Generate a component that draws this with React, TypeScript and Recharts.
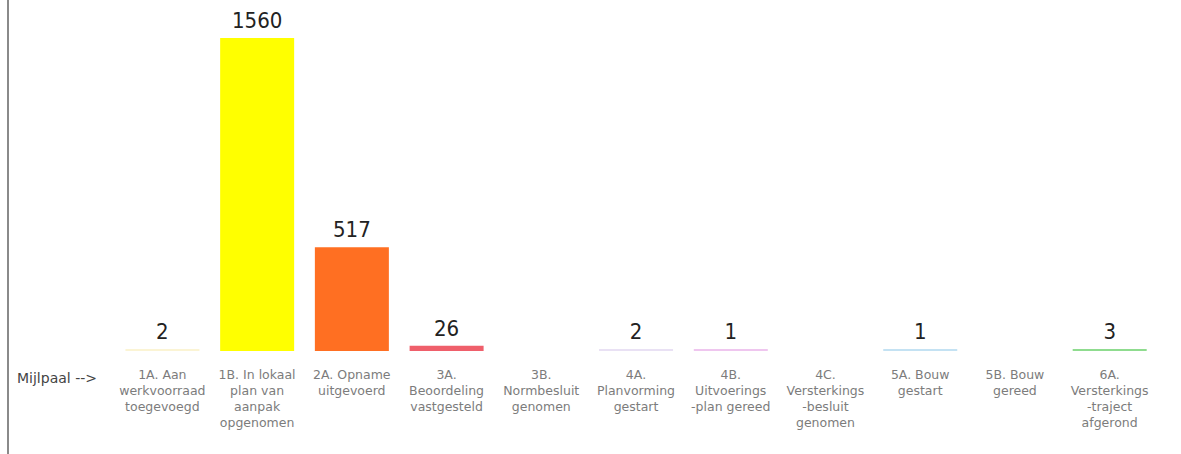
import React from 'react';
import { BarChart, Bar, XAxis, YAxis, Cell, LabelList } from 'recharts';

// milestones (tick labels, line breaks as in the picture)
const categories = [
  '1A. Aan\nwerkvoorraad\ntoegevoegd',
  '1B. In lokaal\nplan van\naanpak\nopgenomen',
  '2A. Opname\nuitgevoerd',
  '3A.\nBeoordeling\nvastgesteld',
  '3B.\nNormbesluit\ngenomen',
  '4A.\nPlanvorming\ngestart',
  '4B.\nUitvoerings\n-plan gereed',
  '4C.\nVersterkings\n-besluit\ngenomen',
  '5A. Bouw\ngestart',
  '5B. Bouw\ngereed',
  '6A.\nVersterkings\n-traject\nafgerond',
];

const counts = [2, 1560, 517, 26, 0, 2, 1, 0, 1, 0, 3];

const colors = [
  '#fbf4d4', '#ffff00', '#ff6f22', '#ef5f6b', '#ffffff', '#e9e1f4',
  '#efc6ef', '#ffffff', '#c4e2f3', '#ffffff', '#8fdc8f',
];

const data = categories.map((name, i) => ({ name, value: counts[i] }));

const CategoryTick = (props: any) => {
  const { x, y, payload } = props;
  const lines = String(payload.value).split('\n');
  return (
    <text
      x={x}
      y={y + 28}
      textAnchor="middle"
      fill="#7c7c7c"
      fontSize={12.5}
      fontFamily="DejaVu Sans, Verdana, sans-serif"
    >
      {lines.map((l, i) => (
        <tspan key={i} x={x} dy={i === 0 ? 0 : 16}>
          {l}
        </tspan>
      ))}
    </text>
  );
};

const ValueLabel = (props: any) => {
  const { x, y, width, value } = props;
  if (!value) return null;
  return (
    <text
      x={x + width / 2}
      y={y - 10}
      textAnchor="middle"
      fill="#222"
      fontSize={22}
      fontFamily="DejaVu Sans Condensed, Liberation Sans, sans-serif"
    >
      {value}
    </text>
  );
};

export default function App() {
  return (
    <div style={{ position: 'absolute', left: 0, top: 0, width: 1181, height: 454, background: '#fff' }}>
      <div style={{ position: 'absolute', left: 7, top: 0, width: 0, height: 454, borderLeft: '2px solid #8a8a8a' }} />
      <div
        style={{
          position: 'absolute',
          left: 17,
          top: 369,
          fontSize: 14,
          lineHeight: '18px',
          color: '#444',
          fontFamily: 'DejaVu Sans, Verdana, sans-serif',
        }}
      >
        Mijlpaal --&gt;
      </div>
      <BarChart
        width={1181}
        height={454}
        data={data}
        margin={{ top: 38, right: 24, left: 115, bottom: 0 }}
        barCategoryGap="11%"
      >
        <XAxis
          dataKey="name"
          axisLine={false}
          tickLine={false}
          tickSize={0}
          tickMargin={0}
          height={103}
          interval={0}
          tick={<CategoryTick />}
        />
        <YAxis hide domain={[0, 1560]} />
        <Bar
          dataKey="value"
          isAnimationActive={false}
          minPointSize={(v: number) => (v > 0 ? 2 : 0)}
        >
          {data.map((d, i) => (
            <Cell key={i} fill={colors[i]} />
          ))}
          <LabelList dataKey="value" content={<ValueLabel />} />
        </Bar>
      </BarChart>
    </div>
  );
}
